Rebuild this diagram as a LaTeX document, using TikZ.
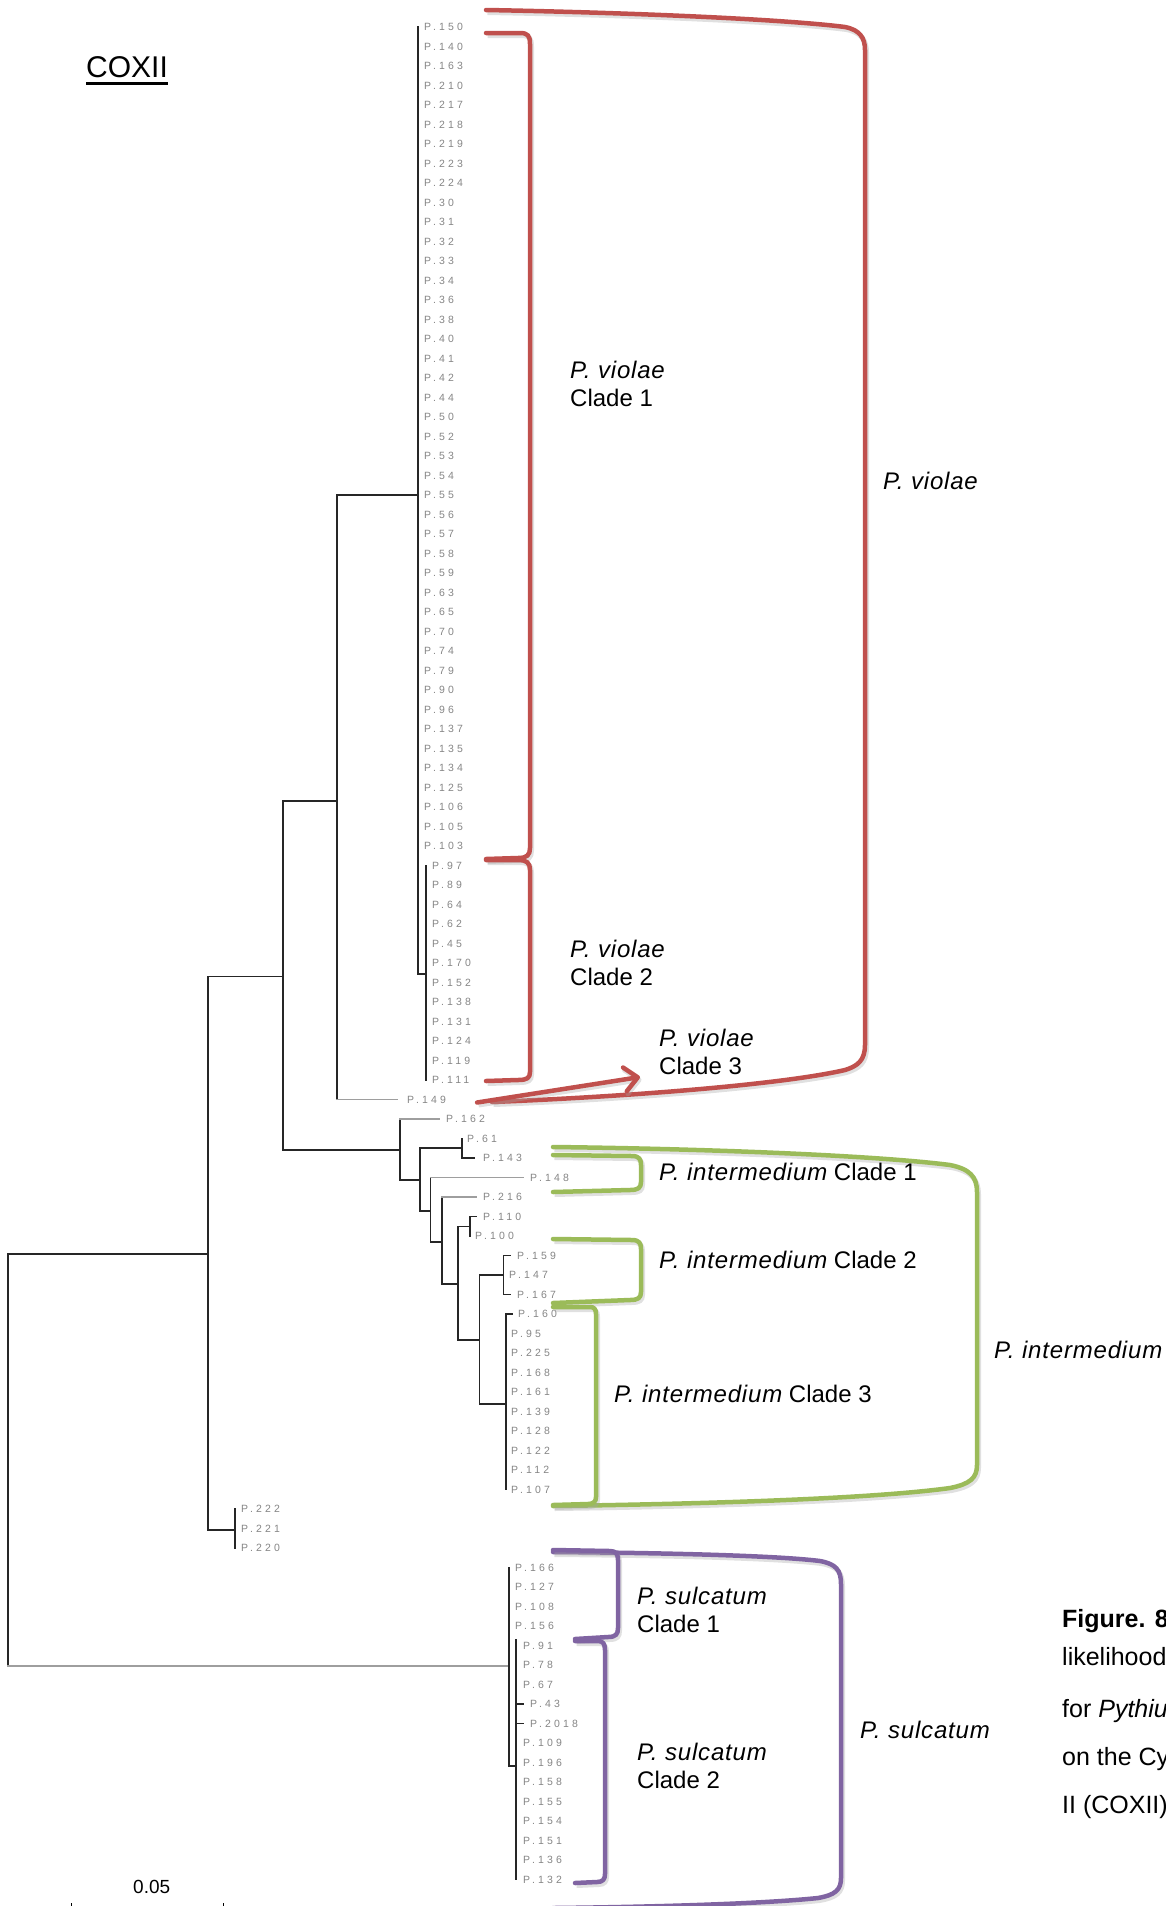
\documentclass[tikz,border=0pt]{standalone}
\usepackage{fontspec}
\setmainfont{Liberation Sans}
\newfontfamily\leaffont[LetterSpace=30]{Liberation Sans}
\newcommand\spname[1]{{\itshape\addfontfeatures{LetterSpace=3.4}#1}}
\usetikzlibrary{arrows.meta}
\definecolor{cred}{HTML}{C0504D}
\definecolor{cgreen}{HTML}{9BBB59}
\definecolor{cpurple}{HTML}{8064A2}
\definecolor{leafgray}{gray}{0.52}
\begin{document}
\begin{tikzpicture}[x=1pt,y=-1pt,
  leaf/.style={anchor=west,inner sep=0pt,font=\leaffont\fontsize{10.5}{12}\selectfont,text=leafgray},
  tree/.style={line width=1.5pt,black!85,line cap=rect},
  gtree/.style={line width=1.5pt,black!38,line cap=rect},
  clade/.style={line width=4.5pt,line cap=round,line join=round,
     preaction={draw=black!35,opacity=0.35,line width=5pt,transform canvas={shift={(1.5pt,-2.5pt)}}}},
  lab/.style={anchor=base west,inner sep=0pt,font=\fontsize{24}{28}\selectfont},
  captext/.style={anchor=base west,inner sep=0pt,font=\fontsize{25}{30}\selectfont},
]
\useasboundingbox (0,0) rectangle (1165,1906);

% title
\node[anchor=base west,inner sep=0pt,font=\fontsize{30}{36}\selectfont] (title) at (86,77) {COXII};
\draw[line width=2.5pt] (title.south west) ++(0,6) coordinate (ul1) -- (ul1 -| title.south east);

% leaves
\foreach \i/\t/\x in {
0/150/424,1/140/424,2/163/424,3/210/424,4/217/424,5/218/424,6/219/424,7/223/424,8/224/424,9/30/424,10/31/424,11/32/424,12/33/424,13/34/424,14/36/424,15/38/424,16/40/424,17/41/424,18/42/424,19/44/424,20/50/424,21/52/424,22/53/424,23/54/424,24/55/424,25/56/424,26/57/424,27/58/424,28/59/424,29/63/424,30/65/424,31/70/424,32/74/424,33/79/424,34/90/424,35/96/424,36/137/424,37/135/424,38/134/424,39/125/424,40/106/424,41/105/424,42/103/424,
43/97/432,44/89/432,45/64/432,46/62/432,47/45/432,48/170/432,49/152/432,50/138/432,51/131/432,52/124/432,53/119/432,54/111/432,
55/149/407,56/162/446,57/61/467,58/143/483,59/148/530,60/216/483,61/110/483,62/100/475,63/159/517,64/147/509,65/167/517,66/160/518,
67/95/511,68/225/511,69/168/511,70/161/511,71/139/511,72/128/511,73/122/511,74/112/511,75/107/511,
76/222/241,77/221/241,78/220/241,
79/166/515,80/127/515,81/108/515,82/156/515,
83/91/523,84/78/523,85/67/523,86/43/530,87/2018/530,88/109/523,89/196/523,90/158/523,91/155/523,92/154/523,93/151/523,94/136/523,95/132/523}
  \node[leaf] (L\i) at (\x,{27+19.5*\i}) {P.\t};

% tree: P. violae
\draw[tree] (418,27) -- (418,974);
\draw[tree] (418,974) -- (426,974);
\draw[tree] (426,865.5) -- (426,1080);
\draw[tree] (337,495) -- (418,495);
\draw[tree] (337,495) -- (337,1099.5);
\draw[gtree] (337,1099.5) -- (397,1099.5);
\draw[tree] (283,801) -- (337,801);
\draw[tree] (283,801) -- (283,1150);
\draw[tree] (283,1150) -- (400,1150);
% P. intermedium
\draw[tree] (400,1119) -- (400,1180);
\draw[gtree] (400,1119) -- (439,1119);
\draw[tree] (400,1180) -- (420,1180);
\draw[tree] (420,1148) -- (420,1211);
\draw[tree] (420,1148) -- (462,1148);
\draw[tree] (462,1138.5) -- (462,1158) -- (474,1158);
\draw[tree] (420,1211) -- (430.5,1211);
\draw[tree] (430.5,1177.5) -- (430.5,1242);
\draw[gtree] (430.5,1177.5) -- (523,1177.5);
\draw[tree] (430.5,1242) -- (442,1242);
\draw[tree] (442,1197) -- (442,1284);
\draw[gtree] (442,1197) -- (476,1197);
\draw[tree] (442,1284) -- (458,1284);
\draw[tree] (458,1226.5) -- (458,1340);
\draw[tree] (458,1226.5) -- (470,1226.5);
\draw[tree] (476,1216.5) -- (470,1216.5) -- (470,1236);
\draw[tree] (458,1340) -- (479.5,1340);
\draw[tree] (479.5,1275) -- (479.5,1404);
\draw[tree] (479.5,1275) -- (503.5,1275);
\draw[tree] (510,1255.5) -- (503.5,1255.5) -- (503.5,1294.5) -- (510,1294.5);
\draw[tree] (479.5,1404) -- (506,1404);
\draw[tree] (512,1314) -- (506,1314) -- (506,1489.5);
% middle and root
\draw[tree] (208,976.5) -- (283,976.5);
\draw[tree] (208,976.5) -- (208,1530);
\draw[tree] (208,1530) -- (235,1530);
\draw[tree] (235,1509) -- (235,1548);
\draw[tree] (8,1254) -- (208,1254);
\draw[tree] (8,1254) -- (8,1666);
\draw[gtree] (8,1666) -- (509,1666);
% P. sulcatum
\draw[tree] (509,1567.5) -- (509,1766) -- (516,1766);
\draw[tree] (516,1640) -- (516,1879.5);
\draw[tree] (516,1704) -- (523,1704);
\draw[tree] (516,1723.5) -- (523,1723.5);

% scale bar
\node[anchor=base west,inner sep=0pt,font=\fontsize{19}{22}\selectfont] (scale) at (133,1893) {0.05};
\draw[line width=1pt] (71,1903) -- (71,1906);
\draw[line width=1pt] (223,1903) -- (223,1906);

% red brackets
\draw[clade,cred] (486,10) .. controls (650,13) and (790,20) .. (845,27) .. controls (860,30) and (865,38) .. (865,50) -- (865,1045) .. controls (865,1060) and (858,1066) .. (845,1070) .. controls (780,1085) and (620,1097) .. (492,1102);
\draw[clade,cred] (486,33) -- (520,33) .. controls (528,33) and (530,36) .. (530,44) -- (530,848) .. controls (530,855) and (527,858) .. (518,858) -- (486,859);
\draw[clade,cred] (486,860) -- (518,860) .. controls (527,860) and (530,863) .. (530,870) -- (530,1072) .. controls (530,1078) and (527,1080) .. (518,1080) -- (486,1081);
\draw[clade,cred,-{Straight Barb[length=13pt,width=24pt,round]}] (L55.east) ++(31,3) coordinate (a0) -- (640,1077) coordinate (a1);

% green brackets
\draw[clade,cgreen] (553,1147) .. controls (720,1149) and (880,1156) .. (950,1165) .. controls (970,1169) and (977,1177) .. (977,1192) -- (977,1465) .. controls (977,1478) and (970,1484) .. (950,1488) .. controls (870,1499) and (700,1504) .. (553,1506);
\draw[clade,cgreen] (553,1155) -- (632,1156) .. controls (639,1156) and (641,1159) .. (641,1165) -- (641,1182) .. controls (641,1188) and (638,1190) .. (630,1190) -- (553,1192);
\draw[clade,cgreen] (553,1239) -- (632,1240) .. controls (639,1240) and (641,1243) .. (641,1249) -- (641,1292) .. controls (641,1298) and (638,1300) .. (630,1300) -- (553,1303);
\draw[clade,cgreen] (553,1307) -- (590,1307) .. controls (594,1307) and (596,1309) .. (596,1314) -- (596,1497) .. controls (596,1501) and (594,1504) .. (588,1504) -- (553,1505);

% purple brackets
\draw[clade,cpurple] (553,1552) .. controls (680,1553) and (780,1556) .. (820,1561) .. controls (836,1564) and (841,1570) .. (841,1584) -- (841,1878) .. controls (841,1890) and (835,1895) .. (818,1898) .. controls (760,1904) and (650,1907) .. (553,1908);
\draw[clade,cpurple] (553,1550) -- (610,1551) .. controls (616,1551) and (618,1554) .. (618,1560) -- (618,1628) .. controls (618,1634) and (616,1637) .. (608,1637) -- (575,1639);
\draw[clade,cpurple] (575,1641) -- (598,1641) .. controls (603,1641) and (605,1644) .. (605,1650) -- (605,1874) .. controls (605,1879) and (603,1882) .. (597,1882) -- (575,1883);

% clade labels
\node[lab] (v1a) at (570,378) {\spname{P. violae}};
\node[lab] (v1b) at (570,406) {Clade 1};
\node[lab] (vbig) at (883,489) {\spname{P. violae}};
\node[lab] (v2a) at (570,957) {\spname{P. violae}};
\node[lab] (v2b) at (570,985) {Clade 2};
\node[lab] (v3a) at (659,1046) {\spname{P. violae}};
\node[lab] (v3b) at (659,1074) {Clade 3};
\node[lab] (i1) at (659,1180) {\spname{P. intermedium} Clade 1};
\node[lab] (i2) at (659,1268) {\spname{P. intermedium} Clade 2};
\node[lab] (i3) at (614,1402) {\spname{P. intermedium} Clade 3};
\node[lab] (ibig) at (994,1358) {\spname{P. intermedium}};
\node[lab] (s1a) at (637,1604) {\spname{P. sulcatum}};
\node[lab] (s1b) at (637,1632) {Clade 1};
\node[lab] (s2a) at (637,1760) {\spname{P. sulcatum}};
\node[lab] (s2b) at (637,1788) {Clade 2};
\node[lab] (sbig) at (860,1738) {\spname{P. sulcatum}};

% caption (runs off the right edge, as in the source figure)
\node[captext] (c1) at (1062,1627) {\textbf{Figure. 8}};
\node[captext] (c2) at (1062,1665) {likelihood};
\node[captext] (c3) at (1062,1717) {for \textit{Pythium}};
\node[captext] (c4) at (1062,1765) {on the Cytochrome};
\node[captext] (c5) at (1062,1813) {II (COXII)};
\end{tikzpicture}
\end{document}
